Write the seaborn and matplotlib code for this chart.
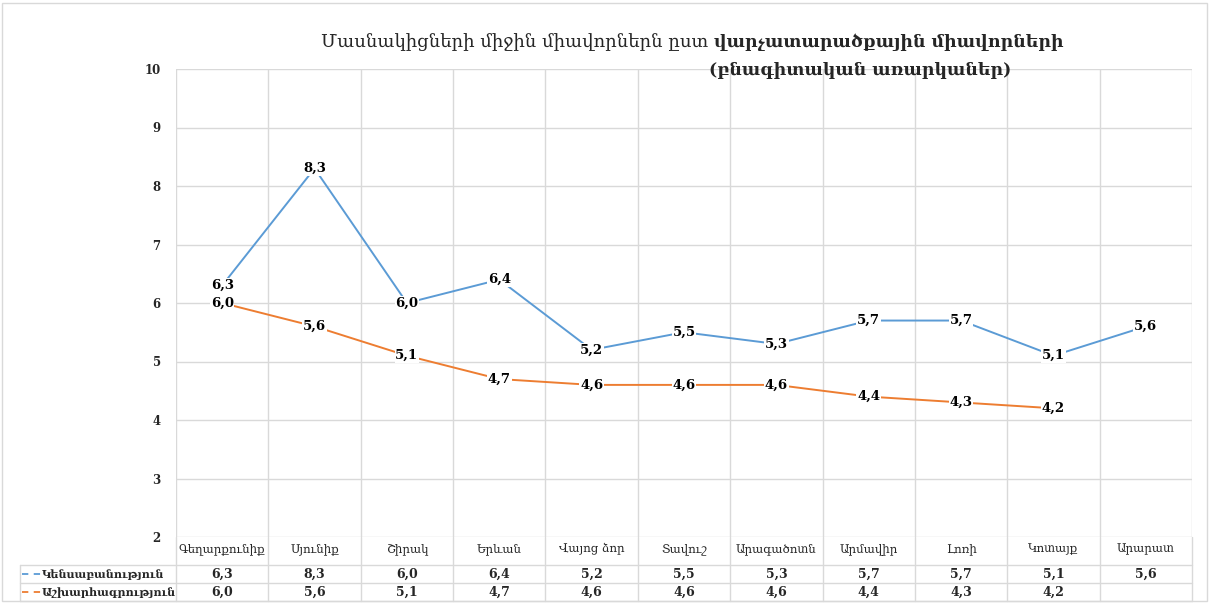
import numpy as np
import pandas as pd
import matplotlib.pyplot as plt
import seaborn as sns
from matplotlib.patches import Rectangle

# ── Data ─────────────────────────────────────────────────────
regions = ['Գեղարքունիք', 'Սյունիք', 'Շիրակ', 'Երևան', 'Վայոց ձոր', 'Տավուշ',
           'Արագածոտն', 'Արմավիր', 'Լոռի', 'Կոտայք', 'Արարատ']
bio = [6.3, 8.3, 6.0, 6.4, 5.2, 5.5, 5.3, 5.7, 5.7, 5.1, 5.6]
geo = [6.0, 5.6, 5.1, 4.7, 4.6, 4.6, 4.6, 4.4, 4.3, 4.2, np.nan]
series_names = ['Կենսաբանություն', 'Աշխարհագրություն']
colors = ['#5B9BD5', '#ED7D31']
y_ticks = [2, 3, 4, 5, 6, 7, 8, 9, 10]

n = len(regions)
df = pd.DataFrame({
    'pos': list(range(n)) * 2,
    'value': bio + geo,
    'series': [series_names[0]] * n + [series_names[1]] * n,
})

sns.set_style('white')
plt.rcParams['font.family'] = ['DejaVu Serif', 'DejaVu Sans']

W, H = 1210, 603
fig = plt.figure(figsize=(W / 100, H / 100), dpi=100)
grid_c = '#D9D9D9'

# ── Main plot ────────────────────────────────────────────────
ax = fig.add_axes([176 / W, 66 / H, 1016 / W, 468 / H])
sns.lineplot(data=df, x='pos', y='value', hue='series',
             palette=dict(zip(series_names, colors)), ax=ax,
             legend=False, linewidth=1.4)
ax.set_xlim(-0.5, n - 0.5)
ax.set_ylim(2, 10)
ax.set_yticks(y_ticks)
ax.set_yticklabels([str(t) for t in y_ticks], fontweight='bold', fontsize=8.5)
ax.tick_params(axis='y', length=0, pad=11)
ax.set_xticks([])
ax.set_xlabel('')
ax.set_ylabel('')
ax.yaxis.grid(True, color=grid_c, linewidth=1)
for s in ax.spines.values():
    s.set_visible(False)
for b in np.arange(-0.5, n, 1.0):
    ax.axvline(b, color=grid_c, linewidth=1, zorder=0)

for vals in (bio, geo):
    for i, v in enumerate(vals):
        if np.isnan(v):
            continue
        ax.text(i, v, f'{v:.1f}'.replace('.', ','), ha='center', va='center',
                fontsize=9.5, fontweight='bold', color='black', zorder=4,
                bbox=dict(fc='white', ec='none', pad=0.6))

# ── Data table ───────────────────────────────────────────────
tab = fig.add_axes([176 / W, 2 / H, 1016 / W, 64 / H])
tab.set_xlim(-0.5, n - 0.5)
tab.set_ylim(64, 0)
tab.axis('off')
px = n / 1016.0
x_left = -0.5 - (176 - 20) * px
for b in np.arange(-0.5, n, 1.0):
    tab.plot([b, b], [0, 64], color=grid_c, lw=1, clip_on=False)
for yy in (28, 46, 64):
    tab.plot([x_left, n - 0.5], [yy, yy], color=grid_c, lw=1, clip_on=False)
tab.plot([x_left, x_left], [28, 64], color=grid_c, lw=1, clip_on=False)

for i, r in enumerate(regions):
    tab.text(i, 12, r, ha='center', va='center', fontsize=8.5)

for k, (name, vals, c) in enumerate(zip(series_names, (bio, geo), colors)):
    yc = 37 + 18 * k
    tab.plot([x_left + 2 * px, x_left + 21 * px], [yc, yc], color=c, lw=1.3,
             linestyle=(0, (3.5, 3)), clip_on=False)
    tab.text(x_left + 22 * px, yc, name, ha='left', va='center', fontsize=8,
             fontweight='bold', clip_on=False)
    for i, v in enumerate(vals):
        if np.isnan(v):
            continue
        tab.text(i, yc, f'{v:.1f}'.replace('.', ','), ha='center', va='center',
                 fontsize=9, fontweight='bold')

# ── Title ────────────────────────────────────────────────────
fig.text(708 / W, 1 - 42 / H, 'Մասնակիցների միջին միավորներն ըստ', ha='right',
         va='center', fontsize=13)
fig.text(714 / W, 1 - 42 / H, 'վարչատարածքային միավորների', ha='left',
         va='center', fontsize=12.5, fontweight='bold')
fig.text(860 / W, 1 - 70 / H, '(բնագիտական առարկաներ)', ha='center',
         va='center', fontsize=12.5, fontweight='bold')

fig.patches.append(Rectangle((2 / W, 2 / H), 1 - 5 / W, 1 - 5 / H,
                             transform=fig.transFigure, fill=False,
                             ec='#D9D9D9', lw=1))

plt.savefig('out.png', dpi=100)
